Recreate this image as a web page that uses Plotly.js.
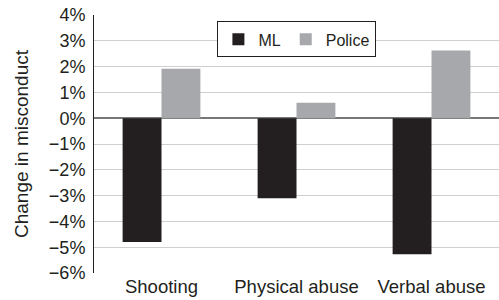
<!DOCTYPE html>
<html>
<head>
<meta charset="utf-8">
<script src="https://cdn.plot.ly/plotly-3.0.1.min.js"></script>
<style>html,body{margin:0;padding:0;background:#fff;}#chart{width:499px;height:300px;}</style>
</head>
<body>
<div id="chart"></div>
<script>
var categories = ["Shooting", "Physical abuse", "Verbal abuse"];
var mlValues = [-4.8, -3.1, -5.27];
var policeValues = [1.92, 0.6, 2.62];
var yTicks = [-6, -5, -4, -3, -2, -1, 0, 1, 2, 3, 4];
var yTickText = yTicks.map(function (v) { return (v < 0 ? "\u2212" + Math.abs(v) : String(v)) + "%"; });

var traces = [
  {type: "bar", name: "ML", x: categories, y: mlValues, marker: {color: "#231f20"}},
  {type: "bar", name: "Police", x: categories, y: policeValues, marker: {color: "#a7a8ab"}}
];

var layout = {
  width: 499, height: 300,
  margin: {l: 94, r: 0, t: 15, b: 27},
  paper_bgcolor: "#fff", plot_bgcolor: "#fff",
  font: {family: "Liberation Sans, Arial, sans-serif", size: 17, color: "#231f20"},
  barmode: "group",
  bargap: 0.424,
  bargroupgap: 0,
  showlegend: true,
  legend: {
    x: 0.501, y: 0.975, xanchor: "center", yanchor: "top",
    orientation: "h",
    bordercolor: "#231f20", borderwidth: 1, bgcolor: "#fff",
    font: {size: 16},
    itemwidth: 30, tracegroupgap: 0
  },
  xaxis: {
    range: [-0.5, 2.5],
    showgrid: false, showline: false, ticks: "", zeroline: false,
    tickfont: {size: 18.5}
  },
  yaxis: {
    range: [-6, 4],
    tickmode: "array",
    tickvals: yTicks,
    ticktext: yTickText,
    showgrid: true, gridcolor: "#cfcfcf", gridwidth: 1,
    zeroline: true, zerolinecolor: "#777", zerolinewidth: 1.5,
    showline: true, linecolor: "#231f20", linewidth: 1,
    ticks: "outside", ticklen: 4, tickcolor: "rgba(0,0,0,0)",
    tickfont: {size: 18},
    automargin: false,
    title: {text: "Change in misconduct", font: {size: 19}, standoff: 15}
  }
};

Plotly.newPlot("chart", traces, layout, {displayModeBar: false, staticPlot: true});
</script>
</body>
</html>
